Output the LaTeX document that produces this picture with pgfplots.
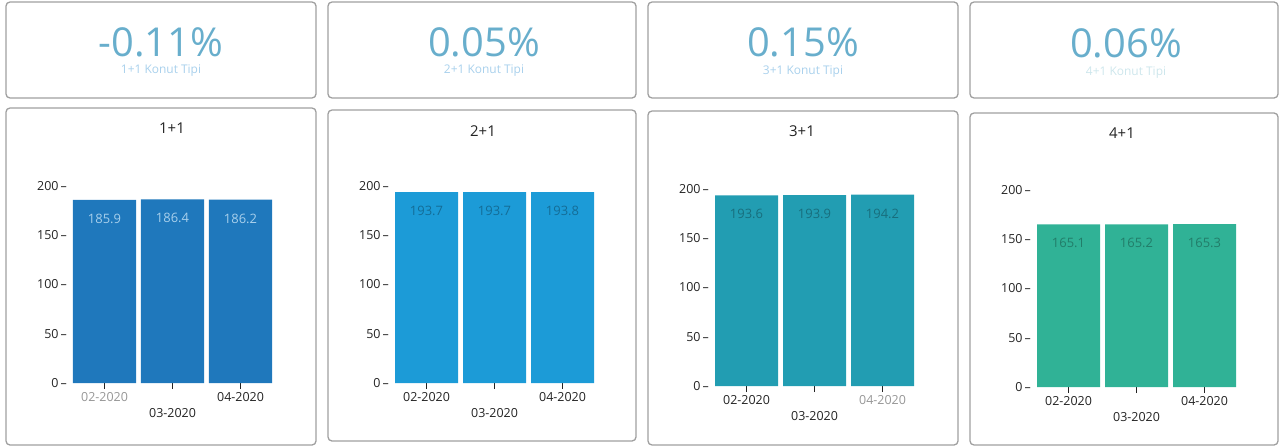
\documentclass[border=0pt]{standalone}
\usepackage{fontspec}
\setmainfont{Open Sans}
\usepackage{pgfplots}
\pgfplotsset{compat=1.18}

\definecolor{barA}{RGB}{31,120,188}
\definecolor{barB}{RGB}{28,155,215}
\definecolor{barC}{RGB}{34,157,178}
\definecolor{barD}{RGB}{48,178,150}
\definecolor{kpi}{RGB}{104,174,204}
\definecolor{kpisub}{RGB}{168,208,236}
\definecolor{kpisubfaint}{RGB}{205,230,236}
\definecolor{darktext}{RGB}{35,35,35}
\definecolor{fadedtext}{RGB}{150,150,150}
\definecolor{cardline}{RGB}{160,160,160}

\pgfplotsset{
  panel/.style={
    scale only axis, width=204bp, height=197bp,
    anchor=south west,
    xmin=-0.5, xmax=2.5, ymin=0, ymax=200,
    ybar, bar width=63bp,
    axis x line*=bottom, axis y line*=left,
    axis line style={draw=none},
    /pgf/number format/assume math mode=true,
    ytick={0,50,100,150,200},
    yticklabel={\pgfmathprintnumber{\tick}\,--},
    ytick style={draw=none},
    yticklabel style={font=\fontsize{12.5}{14}\selectfont, text=darktext, inner sep=0pt, xshift=-3.5bp},
    xtick={0,2},
    major tick length=6bp,
    xtick style={draw=darktext, line width=1bp},
    xticklabel style={font=\fontsize{12.5}{14}\selectfont, text=darktext, inner sep=1bp, yshift=-2bp},
    extra x ticks={1},
    extra x tick labels={03-2020},
    extra x tick style={tick label style={yshift=-16bp}},
    nodes near coords={\pgfmathprintnumber[fixed,precision=1,fixed zerofill]{\pgfplotspointmeta}},
    every node near coord/.append style={anchor=center, yshift=-19bp, font=\fontsize{13}{15}\selectfont},
  }
}

\newcommand\card[4]{\draw[cardline, line width=1.3bp, rounded corners=4bp] (#1bp,-#2bp) rectangle (#3bp,-#4bp);}

\begin{document}
\begin{tikzpicture}
\useasboundingbox (0,0) rectangle (1280bp,-448bp);

% KPI cards
\card{6}{2}{316}{98}
\card{328}{2}{636}{98}
\card{648}{2}{958}{98}
\card{970}{2}{1278}{98}
\node[text=kpi, font=\fontsize{40}{44}\selectfont] at (161bp,-42bp) {-0.11\%};
\node[text=kpi, font=\fontsize{40}{44}\selectfont] at (484bp,-42bp) {0.05\%};
\node[text=kpi, font=\fontsize{40}{44}\selectfont] at (803bp,-42bp) {0.15\%};
\node[text=kpi, font=\fontsize{40}{44}\selectfont] at (1126bp,-43bp) {0.06\%};
\node[text=kpisub, font=\fontsize{12}{14}\selectfont] at (161bp,-71bp) {1+1 Konut Tipi};
\node[text=kpisub, font=\fontsize{12}{14}\selectfont] at (484bp,-71bp) {2+1 Konut Tipi};
\node[text=kpisub, font=\fontsize{12}{14}\selectfont] at (803bp,-72bp) {3+1 Konut Tipi};
\node[text=kpisubfaint, font=\fontsize{12}{14}\selectfont] at (1126bp,-73bp) {4+1 Konut Tipi};

% chart cards
\card{6}{108}{316}{445}
\card{328}{110}{636}{441}
\card{648}{111}{958}{445}
\card{970}{113}{1278}{445}
\node[text=darktext, font=\fontsize{15}{17}\selectfont] at (172bp,-128bp) {1+1};
\node[text=darktext, font=\fontsize{15}{17}\selectfont] at (483bp,-131bp) {2+1};
\node[text=darktext, font=\fontsize{15}{17}\selectfont] at (802bp,-131bp) {3+1};
\node[text=darktext, font=\fontsize{15}{17}\selectfont] at (1122bp,-133bp) {4+1};

\begin{axis}[panel, at={(70.5bp,-383bp)},
    xticklabels={\textcolor{fadedtext}{02-2020},04-2020},
    every node near coord/.append style={text=kpisub}]
  \addplot[fill=barA, draw=none] coordinates {(0,185.9) (1,186.4) (2,186.2)};
\end{axis}

\begin{axis}[panel, at={(392.5bp,-383bp)},
    xticklabels={02-2020,04-2020},
    every node near coord/.append style={text=barB!70!black}]
  \addplot[fill=barB, draw=none] coordinates {(0,193.7) (1,193.7) (2,193.8)};
\end{axis}

\begin{axis}[panel, at={(712.5bp,-386bp)},
    xticklabels={02-2020,\textcolor{fadedtext}{04-2020}},
    every node near coord/.append style={text=barC!70!black}]
  \addplot[fill=barC, draw=none] coordinates {(0,193.6) (1,193.9) (2,194.2)};
\end{axis}

\begin{axis}[panel, at={(1034.5bp,-387bp)},
    xticklabels={02-2020,04-2020},
    every node near coord/.append style={text=barD!70!black}]
  \addplot[fill=barD, draw=none] coordinates {(0,165.1) (1,165.2) (2,165.3)};
\end{axis}
\end{tikzpicture}
\end{document}
